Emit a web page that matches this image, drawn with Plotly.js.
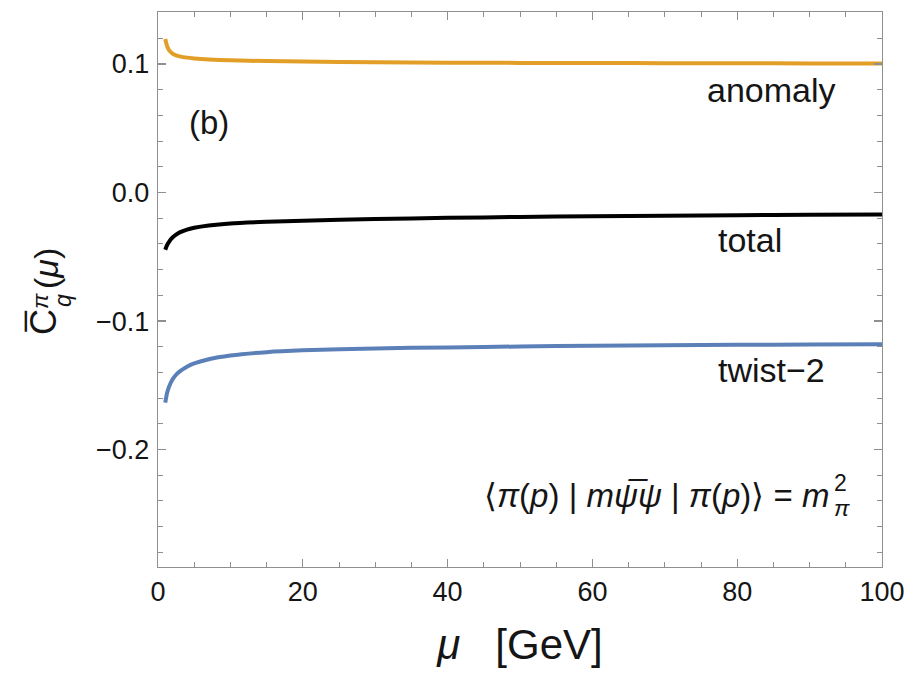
<!DOCTYPE html>
<html>
<head>
<meta charset="utf-8">
<script src="https://cdn.plot.ly/plotly-3.0.1.min.js"></script>
<style>html,body{margin:0;padding:0;background:#fff;}#plot{width:914px;height:674px;}</style>
</head>
<body>
<div id="plot"></div>
<script>
const mu       = [1, 1.25, 1.5, 2, 2.5, 3, 4, 5, 7, 10, 15, 20, 30, 40, 50, 60, 70, 80, 90, 100];
const anomaly  = [0.1195, 0.1140, 0.1110, 0.1082, 0.1068, 0.1060, 0.1050, 0.1044, 0.1036, 0.1029, 0.1023, 0.1019, 0.1014, 0.1011, 0.1009, 0.1008, 0.1007, 0.1006, 0.1005, 0.1005];
const total    = [-0.0445, -0.0410, -0.0385, -0.0350, -0.0328, -0.0310, -0.0288, -0.0274, -0.0256, -0.0240, -0.0228, -0.0220, -0.0206, -0.0197, -0.0190, -0.0184, -0.0180, -0.0176, -0.0173, -0.0171];
const twist2   = [-0.1635, -0.1560, -0.1515, -0.1455, -0.1418, -0.1392, -0.1355, -0.1330, -0.1297, -0.1268, -0.1242, -0.1228, -0.1213, -0.1205, -0.1198, -0.1192, -0.1188, -0.1185, -0.1183, -0.1181];
const yTickVals = [0.1, 0.0, -0.1, -0.2];
const yTickText = ['0.1', '0.0', '\u22120.1', '\u22120.2'];
const xTickVals = [0, 20, 40, 60, 80, 100];
const xTickText = ['0', '20', '40', '60', '80', '100'];

const font = 'Liberation Sans, Arial, sans-serif';
const axisColor = '#8f8f8f';
const txt = '#151515';

const M = {l: 158, r: 32, t: 12, b: 107};
const W = 914, H = 674;
const pw = W - M.l - M.r, ph = H - M.t - M.b;
const px = v => (v - M.l) / pw;
const py = v => (H - M.b - v) / ph;

const traces = [
  {x: mu, y: anomaly, mode: 'lines', line: {color: '#E29E26', width: 4, shape: 'spline', smoothing: 0.6}, hoverinfo: 'skip'},
  {x: mu, y: total,   mode: 'lines', line: {color: '#000000', width: 4, shape: 'spline', smoothing: 0.6}, hoverinfo: 'skip'},
  {x: mu, y: twist2,  mode: 'lines', line: {color: '#5B80B8', width: 4, shape: 'spline', smoothing: 0.6}, hoverinfo: 'skip'}
];

const rot = (x, y, text, size) => ({x: px(x), y: py(y), xref: 'paper', yref: 'paper', text: text, textangle: -90,
  showarrow: false, xanchor: 'center', yanchor: 'middle', font: {size: size, family: font, color: txt}});

const layout = {
  width: W, height: H,
  margin: M,
  paper_bgcolor: '#fff', plot_bgcolor: '#fff',
  showlegend: false,
  font: {family: font, color: txt},
  xaxis: {
    range: [0, 100], showgrid: false, zeroline: false,
    showline: true, linecolor: axisColor, linewidth: 1.3, mirror: 'allticks',
    ticks: 'inside', ticklen: 8, tickwidth: 1.2, tickcolor: axisColor,
    tickvals: xTickVals, ticktext: xTickText,
    tickfont: {size: 27, family: font, color: txt},
    minor: {dtick: 5, tick0: 0, ticks: 'inside', ticklen: 5, tickcolor: axisColor, tickwidth: 1, showgrid: false},
    title: {text: '<i>μ</i>   [GeV]', font: {size: 42, family: font, color: txt}, standoff: 24}
  },
  yaxis: {
    range: [-0.2914, 0.1405], showgrid: false, zeroline: false,
    showline: true, linecolor: axisColor, linewidth: 1.3, mirror: 'allticks',
    ticks: 'inside', ticklen: 8, tickwidth: 1.2, tickcolor: axisColor,
    tickvals: yTickVals, ticktext: yTickText,
    tickfont: {size: 27, family: font, color: txt},
    ticklabelstandoff: 2,
    minor: {dtick: 0.02, tick0: 0, ticks: 'inside', ticklen: 5, tickcolor: axisColor, tickwidth: 1, showgrid: false}
  },
  annotations: [
    rot(43, 322, 'C\u0305', 36),
    rot(40, 301, '<i>π</i>', 23),
    rot(63, 301, '<i>q</i>', 23),
    rot(46, 269, '(<i>μ</i>)', 34),
    {x: 84.7, y: 0.0797, xref: 'x', yref: 'y', text: 'anomaly', showarrow: false, font: {size: 34, family: font, color: txt}},
    {x: 81.8, y: -0.0371, xref: 'x', yref: 'y', text: 'total', showarrow: false, font: {size: 34, family: font, color: txt}},
    {x: 84.8, y: -0.1384, xref: 'x', yref: 'y', text: 'twist\u22122', showarrow: false, font: {size: 34, family: font, color: txt}},
    {x: 7.1, y: 0.0545, xref: 'x', yref: 'y', text: '(b)', showarrow: false, font: {size: 33, family: font, color: txt}},
    {x: 92.9, y: -0.2357, xref: 'x', yref: 'y', xanchor: 'right', text: '\u27E8<i>π</i>(<i>p</i>) | <i>m</i><i>ψ\u0305</i><i>ψ</i> | <i>π</i>(<i>p</i>)\u27E9 = <i>m</i>', showarrow: false, font: {size: 33, family: font, color: txt}},
    {x: 93.1, y: -0.2262, xref: 'x', yref: 'y', xanchor: 'left', text: '2', showarrow: false, font: {size: 23, family: font, color: txt}},
    {x: 93.1, y: -0.2455, xref: 'x', yref: 'y', xanchor: 'left', text: '<i>π</i>', showarrow: false, font: {size: 23, family: font, color: txt}}
  ]
};

Plotly.newPlot('plot', traces, layout, {staticPlot: true, displayModeBar: false});
</script>
</body>
</html>
